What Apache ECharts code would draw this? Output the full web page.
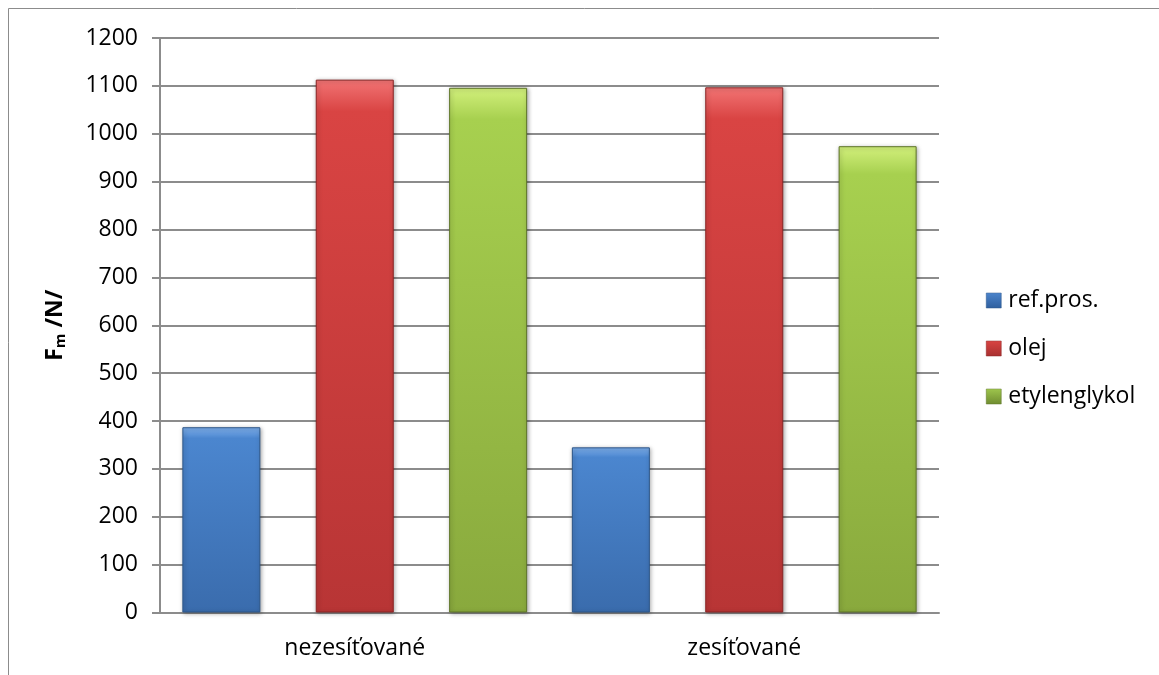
<!DOCTYPE html>
<html>
<head>
<meta charset="utf-8">
<script src="https://cdn.jsdelivr.net/npm/echarts@6/dist/echarts.min.js"></script>
<style>
html,body{margin:0;padding:0;background:#fff;}
#chart{width:1159px;height:675px;}
</style>
</head>
<body>
<div id="chart"></div>
<script>
const categories = ['nezesíťované', 'zesíťované'];
const seriesNames = ['ref.pros.', 'olej', 'etylenglykol'];
const refPros = [387, 345];
const olej = [1113, 1097];
const etylenglykol = [1096, 974];
const yTicks = [0, 100, 200, 300, 400, 500, 600, 700, 800, 900, 1000, 1100, 1200];

const FONT = '"Open Sans", "DejaVu Sans", sans-serif';

function grad(top, mid, bottom) {
  return new echarts.graphic.LinearGradient(0, 0, 0, 1, [
    {offset: 0, color: top},
    {offset: 0.06, color: mid},
    {offset: 1, color: bottom}
  ]);
}

const styles = [
  {fill: grad('#7fb0ec', '#4b86cf', '#3a6cad'), border: '#2d5689', legend: grad('#7fb0ec', '#4a82c9', '#2f5f9e')},
  {fill: grad('#f27474', '#d94443', '#b83535'), border: '#8a2424', legend: grad('#f27474', '#d64241', '#a83030')},
  {fill: grad('#d2f07c', '#a7d04f', '#89a93d'), border: '#5e7528', legend: grad('#d2f07c', '#9bc24b', '#6f8c30')}
];

const dataSets = [refPros, olej, etylenglykol];

const chart = echarts.init(document.getElementById('chart'), null, {renderer: 'canvas'});
chart.setOption({
  animation: false,
  backgroundColor: '#ffffff',
  textStyle: {fontFamily: FONT},
  graphic: [{
    type: 'rect',
    shape: {x: 8.5, y: 8.5, width: 1300, height: 800},
    style: {fill: 'none', stroke: '#8c8c8c', lineWidth: 1},
    z: -10
  }],
  grid: {left: 160, right: 220, top: 38, bottom: 62.5, containLabel: false},
  legend: {
    orient: 'vertical',
    left: 981,
    top: 284,
    itemWidth: 15,
    itemHeight: 15,
    itemGap: 25,
    icon: 'rect',
    textStyle: {fontFamily: FONT, fontSize: 23, color: '#000', padding: [0, 0, 0, 2]},
    data: seriesNames.map((n, i) => ({name: n, itemStyle: {color: styles[i].legend, borderColor: styles[i].border, borderWidth: 0.5}}))
  },
  xAxis: {
    type: 'category',
    data: categories,
    axisLine: {show: true, lineStyle: {color: '#8c8c8c', width: 2}},
    axisTick: {show: false},
    axisLabel: {fontFamily: FONT, fontSize: 23, color: '#000', margin: 24}
  },
  yAxis: {
    type: 'value',
    min: 0,
    max: 1200,
    interval: 100,
    name: '{b|F}{s|m}{b| /N/}',
    nameLocation: 'middle',
    nameRotate: 90,
    nameGap: 92,
    nameTextStyle: {
      rich: {
        b: {fontFamily: FONT, fontSize: 23, fontWeight: 'bold', color: '#000'},
        s: {fontFamily: FONT, fontSize: 15, fontWeight: 'bold', color: '#000', padding: [10, 0, 0, 0]}
      }
    },
    axisLine: {show: true, lineStyle: {color: '#8c8c8c', width: 2}},
    axisTick: {show: true, length: 8, lineStyle: {color: '#8c8c8c', width: 2}},
    axisLabel: {fontFamily: FONT, fontSize: 23, color: '#000', margin: 22,
      formatter: v => yTicks.includes(v) ? String(v) : ''},
    splitLine: {show: true, lineStyle: {color: '#8c8c8c', width: 2}}
  },
  series: dataSets.map((d, i) => ({
    type: 'bar',
    name: seriesNames[i],
    data: d,
    barWidth: 78,
    barGap: '71%',
    itemStyle: {
      color: styles[i].fill,
      borderColor: styles[i].border,
      borderWidth: 1,
      shadowColor: 'rgba(0,0,0,0.35)',
      shadowBlur: 4,
      shadowOffsetX: 1,
      shadowOffsetY: 1
    }
  }))
});
</script>
</body>
</html>
